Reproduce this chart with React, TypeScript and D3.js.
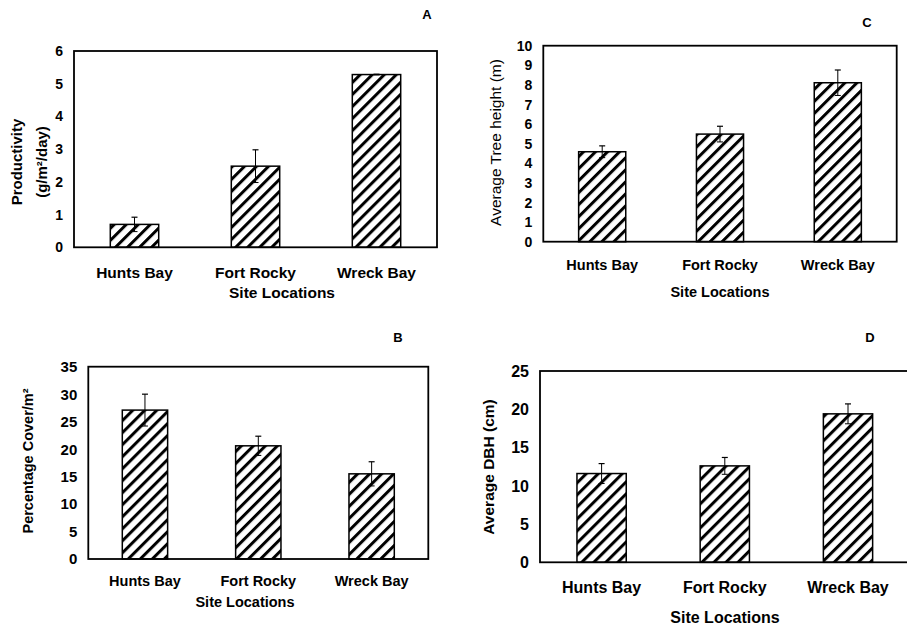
import React from "react";
import * as d3 from "d3";

const categories = ["Hunts Bay", "Fort Rocky", "Wreck Bay"];

const productivity = [0.7, 2.48, 5.28];
const productivityErr = [0.22, 0.5, 0.01];
const productivityTicks = [0, 1, 2, 3, 4, 5, 6];

const treeHeight = [4.59, 5.49, 8.11];
const treeHeightErr = [0.3, 0.4, 0.65];
const treeHeightTicks = [0, 1, 2, 3, 4, 5, 6, 7, 8, 9, 10];

const cover = [27.1, 20.6, 15.5];
const coverErr = [2.9, 1.75, 2.2];
const coverTicks = [0, 5, 10, 15, 20, 25, 30, 35];

const dbh = [11.6, 12.6, 19.4];
const dbhErr = [1.3, 1.1, 1.3];
const dbhTicks = [0, 5, 10, 15, 20, 25];

const FONT = "'Liberation Sans', Arial, Helvetica, sans-serif";

type PanelProps = {
  letter: string;
  letterX: number;
  letterY: number;
  values: number[];
  errs: number[];
  ticks: number[];
  left: number;
  right: number;
  top: number;
  bottom: number;
  tickFont: number;
  tickWeight: string;
  catFont: number;
  catY: number;
  titleX: number;
  titleY: number;
  titleFont: number;
  titleWeight: string;
  yLabels: string[];
  yLabelXs: number[];
  yLabelY: number;
  yLabelFont: number;
  yLabelWeight: string;
};

function Panel(p: PanelProps) {
  const x = d3.scaleBand<string>().domain(categories).range([p.left, p.right]).padding(0);
  const y = d3
    .scaleLinear()
    .domain([0, p.ticks[p.ticks.length - 1]])
    .range([p.bottom, p.top]);
  const bw = x.bandwidth() * 0.4;
  return (
    <g>
      <text x={p.letterX} y={p.letterY} fontFamily={FONT} fontWeight="bold" fontSize={13} textAnchor="middle">
        {p.letter}
      </text>
      {p.ticks.map((t) => (
        <text
          key={t}
          x={p.left - 11}
          y={y(t)}
          dy="0.36em"
          textAnchor="end"
          fontFamily={FONT}
          fontWeight={p.tickWeight}
          fontSize={p.tickFont}
        >
          {t}
        </text>
      ))}
      {categories.map((c, i) => {
        const cx = (x(c) as number) + x.bandwidth() / 2;
        const v = p.values[i];
        const e = p.errs[i];
        return (
          <g key={c}>
            <rect
              x={cx - bw / 2}
              y={y(v)}
              width={bw}
              height={y(0) - y(v)}
              fill="url(#hatch)"
              stroke="#000"
              strokeWidth={1.5}
            />
            <line x1={cx} x2={cx} y1={y(v - e)} y2={y(v + e)} stroke="#000" strokeWidth={1} />
            <line x1={cx - 3} x2={cx + 3} y1={y(v + e)} y2={y(v + e)} stroke="#000" strokeWidth={1.2} />
            <line x1={cx - 3} x2={cx + 3} y1={y(v - e)} y2={y(v - e)} stroke="#000" strokeWidth={1} />
            <text
              x={cx}
              y={p.catY}
              textAnchor="middle"
              fontFamily={FONT}
              fontWeight="bold"
              fontSize={p.catFont}
            >
              {c}
            </text>
          </g>
        );
      })}
      <rect
        x={p.left}
        y={p.top}
        width={p.right - p.left}
        height={p.bottom - p.top}
        fill="none"
        stroke="#000"
        strokeWidth={1.8}
      />
      <text
        x={p.titleX}
        y={p.titleY}
        textAnchor="middle"
        fontFamily={FONT}
        fontWeight={p.titleWeight}
        fontSize={p.titleFont}
      >
        Site Locations
      </text>
      {p.yLabels.map((lab, i) => (
        <text
          key={lab}
          transform={`translate(${p.yLabelXs[i]},${p.yLabelY}) rotate(-90)`}
          textAnchor="middle"
          dy="0.36em"
          fontFamily={FONT}
          fontWeight={p.yLabelWeight}
          fontSize={p.yLabelFont}
        >
          {lab}
        </text>
      ))}
    </g>
  );
}

export default function App() {
  return (
    <svg
      width={907}
      height={626}
      style={{ position: "absolute", left: 0, top: 0, background: "#fff" }}
    >
      <defs>
        <pattern
          id="hatch"
          patternUnits="userSpaceOnUse"
          width={8.5}
          height={8.5}
          patternTransform="rotate(45)"
        >
          <rect width={8.5} height={8.5} fill="#fff" />
          <rect x={0} y={0} width={3} height={8.5} fill="#000" />
        </pattern>
      </defs>
      <rect width={907} height={626} fill="#fff" />
      <Panel
        letter="A"
        letterX={427}
        letterY={19}
        values={productivity}
        errs={productivityErr}
        ticks={productivityTicks}
        left={74}
        right={437}
        top={51}
        bottom={247.3}
        tickFont={14}
        tickWeight="bold"
        catFont={15.5}
        catY={278}
        titleX={282}
        titleY={298}
        titleFont={15.5}
        titleWeight="bold"
        yLabels={["Productivity", "(g/m²/day)"]}
        yLabelXs={[17, 42]}
        yLabelY={162}
        yLabelFont={15}
        yLabelWeight="bold"
      />
      <Panel
        letter="C"
        letterX={867}
        letterY={27}
        values={treeHeight}
        errs={treeHeightErr}
        ticks={treeHeightTicks}
        left={543.3}
        right={896.7}
        top={45.7}
        bottom={241.7}
        tickFont={14}
        tickWeight="bold"
        catFont={14.5}
        catY={269.5}
        titleX={720}
        titleY={297}
        titleFont={14.5}
        titleWeight="bold"
        yLabels={["Average Tree height (m)"]}
        yLabelXs={[495]}
        yLabelY={142.5}
        yLabelFont={15.5}
        yLabelWeight="normal"
      />
      <Panel
        letter="B"
        letterX={398}
        letterY={342}
        values={cover}
        errs={coverErr}
        ticks={coverTicks}
        left={88.3}
        right={428.3}
        top={366.7}
        bottom={559}
        tickFont={15}
        tickWeight="bold"
        catFont={14.5}
        catY={586}
        titleX={245}
        titleY={607}
        titleFont={14.5}
        titleWeight="bold"
        yLabels={["Percentage Cover/m²"]}
        yLabelXs={[28]}
        yLabelY={461}
        yLabelFont={14.5}
        yLabelWeight="bold"
      />
      <Panel
        letter="D"
        letterX={870}
        letterY={342}
        values={dbh}
        errs={dbhErr}
        ticks={dbhTicks}
        left={540}
        right={909.6}
        top={371}
        bottom={562.3}
        tickFont={16}
        tickWeight="bold"
        catFont={16}
        catY={593}
        titleX={725}
        titleY={623}
        titleFont={16}
        titleWeight="bold"
        yLabels={["Average DBH (cm)"]}
        yLabelXs={[488]}
        yLabelY={467}
        yLabelFont={15.5}
        yLabelWeight="bold"
      />
    </svg>
  );
}
